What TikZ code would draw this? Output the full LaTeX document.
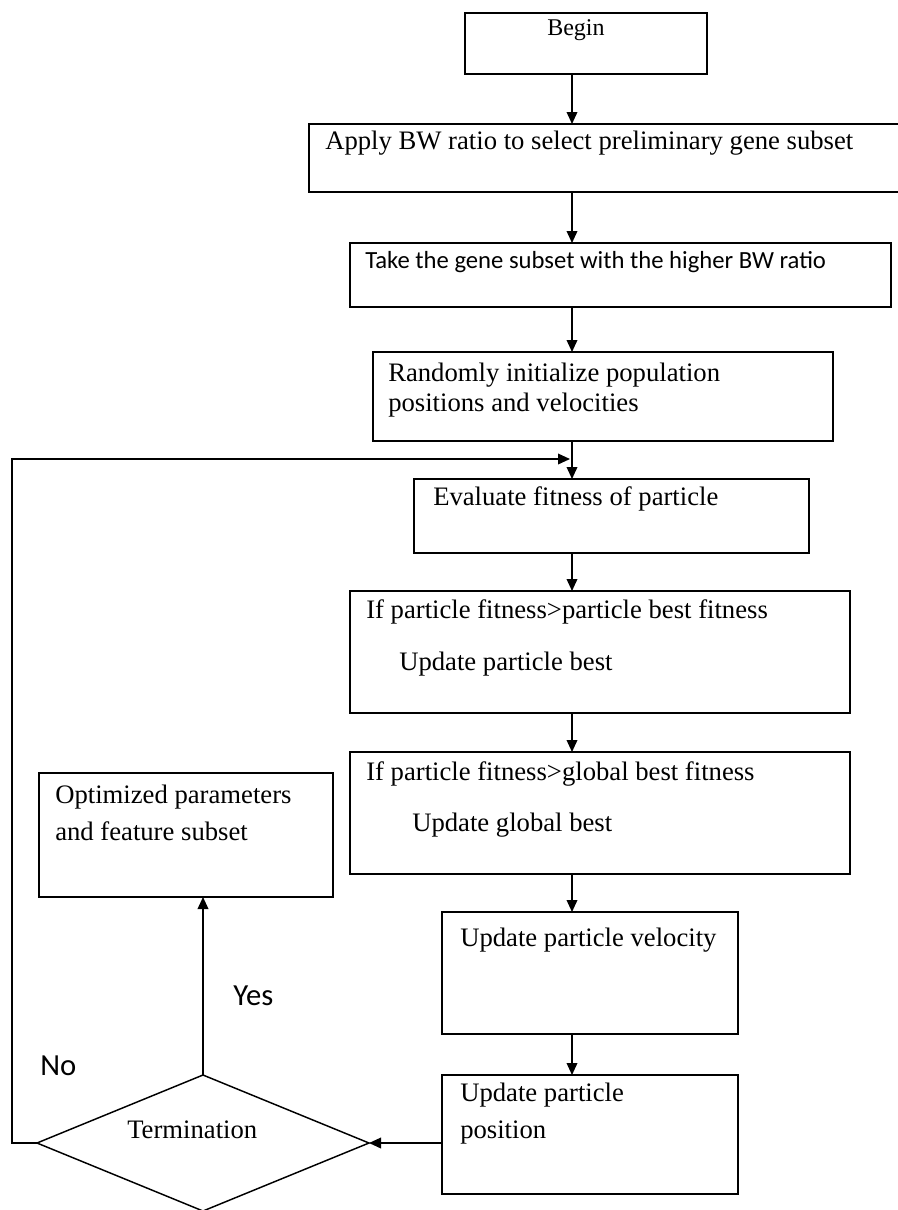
\documentclass[tikz,border=0pt]{standalone}
\usepackage{fontspec}
\setmainfont{Liberation Serif}
\newfontfamily\carlfont{Carlito}
\usetikzlibrary{arrows.meta,shapes.geometric,fit}
\begin{document}
\begin{tikzpicture}[x=0.75pt,y=-0.75pt,
  box/.style={draw, line width=1.1pt, inner sep=0pt, outer sep=0pt},
  arr/.style={draw, line width=1.1pt, -{Triangle[length=9pt,width=8pt]}},
  txt/.style={anchor=base west, inner sep=0pt, font=\fontsize{20}{22.5}\selectfont},
  stxt/.style={anchor=base west, inner sep=0pt, font=\carlfont\fontsize{18.5}{21}\selectfont},
  lbl/.style={anchor=base west, inner sep=0pt, font=\carlfont\fontsize{23}{26}\selectfont}]
\useasboundingbox (0,0) rectangle (898,1210);
% boxes
\node[box, fit={(465,13) (707,74)}] (begin) {};
\node[box, fit={(309,124) (900,192)}] (apply) {};
\node[box, fit={(350,243) (891,307)}] (take) {};
\node[box, fit={(373,352) (833,441)}] (rand) {};
\node[box, fit={(414,479) (809,553)}] (eval) {};
\node[box, fit={(350,591) (850,713)}] (pbest) {};
\node[box, fit={(350,752) (850,874)}] (gbest) {};
\node[box, fit={(442,912) (738,1034)}] (vel) {};
\node[box, fit={(442,1075) (738,1194)}] (pos) {};
\node[box, fit={(39,773) (333,897)}] (opt) {};
\node[draw, diamond, line width=1.1pt, inner sep=0pt, outer sep=0pt,
      minimum width=249pt, minimum height=102pt] (term) at (203,1143) {};
% texts
\node[txt, font=\fontsize{18}{20}\selectfont] (tbegin) at (547,36) {Begin};
\node[txt] (tapply) at (325,149) {Apply BW ratio to select preliminary gene subset};
\node[stxt] (ttake) at (365,268) {Take the gene subset with the higher BW ratio};
\node[txt] (trand1) at (388,381) {Randomly initialize population};
\node[txt] (trand2) at (388,411) {positions and velocities};
\node[txt] (teval) at (433,505) {Evaluate fitness of particle};
\node[txt] (tpb1) at (366,618) {If particle fitness\textgreater particle best fitness};
\node[txt] (tpb2) at (399,670) {Update particle best};
\node[txt] (tgb1) at (366,780) {If particle fitness\textgreater global best fitness};
\node[txt] (tgb2) at (412,831) {Update global best};
\node[txt] (tvel) at (460,946) {Update particle velocity};
\node[txt] (tpos1) at (460,1101) {Update particle};
\node[txt] (tpos2) at (460,1138) {position};
\node[txt] (topt1) at (55,803) {Optimized parameters};
\node[txt] (topt2) at (55,840) {and feature subset};
\node[txt] (tterm) at (127,1138) {Termination};
\node[lbl] (yes) at (233,1005) {Yes};
\node[lbl] (no) at (40,1075) {No};
% connectors
\coordinate (col) at (572,0);
\draw[arr] (begin.south -| col) -- (apply.north -| col);
\draw[arr] (apply.south -| col) -- (take.north -| col);
\draw[arr] (take.south -| col) -- (rand.north -| col);
\draw[arr] (rand.south -| col) -- (eval.north -| col);
\draw[arr] (eval.south -| col) -- (pbest.north -| col);
\draw[arr] (pbest.south -| col) -- (gbest.north -| col);
\draw[arr] (gbest.south -| col) -- (vel.north -| col);
\draw[arr] (vel.south -| col) -- (pos.north -| col);
\draw[arr] (term.east -| pos.west) -- (term.east);
\draw[arr] (term.north) -- (term.north |- opt.south);
\coordinate (loopin) at (570,459);
\draw[arr] (term.west) -- ++(-25,0) |- (loopin);
\end{tikzpicture}
\end{document}
